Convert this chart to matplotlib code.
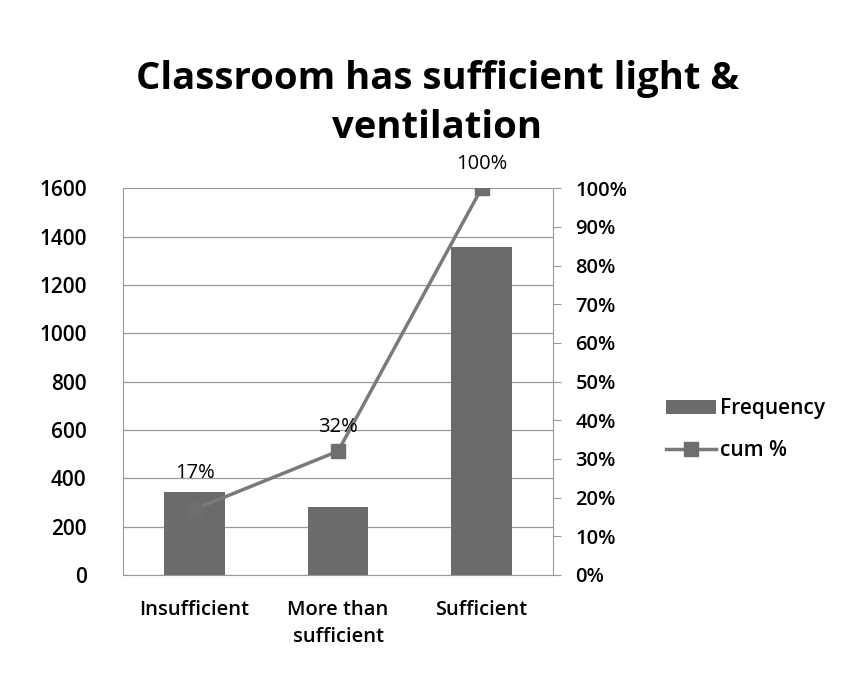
import matplotlib.pyplot as plt

# Values
categories = ["Insufficient", "More than\nsufficient", "Sufficient"]
frequency = [345, 280, 1355]
cum_pct = [17, 32, 100]
pct_labels = ["17%", "32%", "100%"]

plt.rcParams['font.family'] = ['Open Sans', 'DejaVu Sans']
plt.rcParams['font.weight'] = 600

fig = plt.figure(figsize=(8.41, 6.82), dpi=100)
ax = fig.add_axes([0.146, 0.157, 0.512, 0.567])
ax2 = ax.twinx()

x = range(len(categories))
bars = ax.bar(x, frequency, width=0.42, color='#6b6b6b', label='Frequency', zorder=2)
ax.set_ylim(0, 1600)
ax.set_yticks(range(0, 1601, 200))
ax.set_xlim(-0.5, 2.5)
ax.set_xticks(list(x))
ax.set_xticklabels(categories, fontsize=14.5, linespacing=1.5)
ax.tick_params(axis='y', labelsize=15, length=0, pad=26)
ax.tick_params(axis='x', length=0, pad=18)
ax.grid(axis='y', color='#9a9a9a', linewidth=0.9, zorder=0)
ax.set_axisbelow(True)
for side in ['top', 'right']:
    ax.spines[side].set_visible(False)
ax.spines['left'].set_color('#9a9a9a')
ax.spines['bottom'].set_color('#9a9a9a')

line, = ax2.plot(x, cum_pct, color='#7a7a7a', linewidth=2.5, marker='s',
                 markersize=10, markerfacecolor='#6e6e6e', markeredgecolor='#6e6e6e',
                 label='cum %', zorder=3)
ax2.set_ylim(0, 100)
ax2.set_yticks(range(0, 101, 10))
ax2.set_yticklabels([f"{v}%" for v in range(0, 101, 10)], fontsize=14.5)
ax2.tick_params(axis='y', direction='out', length=6, color='#9a9a9a', pad=10)
for side in ['top', 'left', 'bottom']:
    ax2.spines[side].set_visible(False)
ax2.spines['right'].set_color('#9a9a9a')

# data labels
for i, (v, lab) in enumerate(zip(cum_pct, pct_labels)):
    if i == 0:
        ax2.annotate(lab, (i, frequency[0] / 16), xytext=(0, 6), textcoords='offset points',
                     ha='center', va='bottom', fontsize=14.5, fontweight='normal')
    else:
        ax2.annotate(lab, (i, v), xytext=(0, 10), textcoords='offset points',
                     ha='center', va='bottom', fontsize=14.5, fontweight='normal')

fig.text(0.52, 0.848, "Classroom has sufficient light &\nventilation", ha='center', va='center',
         fontsize=27.5, fontweight='bold', linespacing=1.4)

fig.legend([bars, line], ['Frequency', 'cum %'], loc='center left',
           bbox_to_anchor=(0.77, 0.37), frameon=False, fontsize=15,
           handlelength=2.4, labelspacing=1.0, handletextpad=0.2)

fig.savefig("out.png", dpi=100)
